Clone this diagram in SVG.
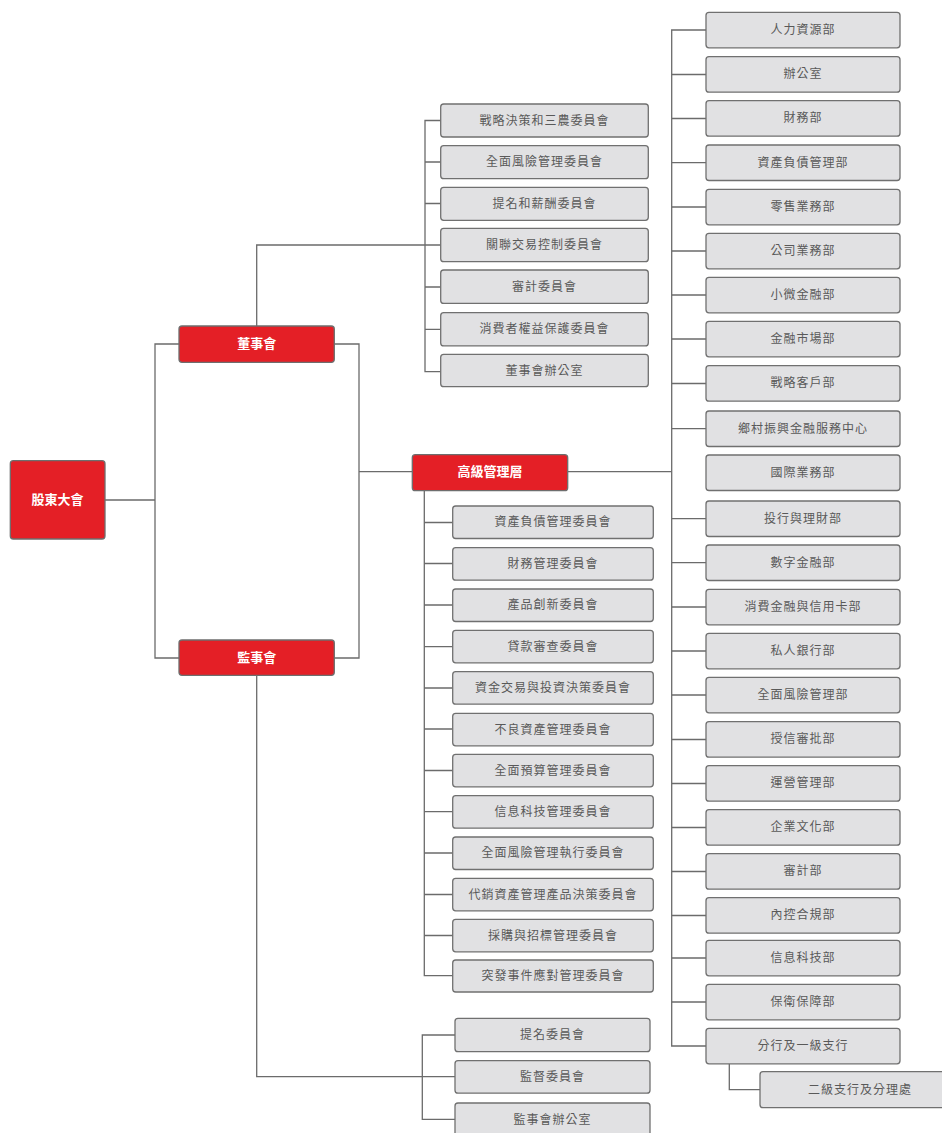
<svg xmlns="http://www.w3.org/2000/svg" width="942" height="1133" viewBox="0 0 942 1133">
<style>
.red rect{fill:#E41F26;stroke:#6e6e6e;stroke-width:1.3}
.red text{fill:#fff;font-weight:bold;font-size:13px}
.gray rect{fill:#E1E1E3;stroke:#707070;stroke-width:1.3}
.gray text{fill:#595959;font-size:12px;letter-spacing:1px}
text{font-family:"Noto Sans CJK TC","Noto Sans CJK SC",sans-serif;text-anchor:middle;dominant-baseline:central;transform:translateY(-1.5px)}
#connectors path{fill:none;stroke:#6b6b6b;stroke-width:1.3}
</style>
<rect width="942" height="1133" fill="#fff"/>
<g id="connectors">
<path d="M105,500H155M179,344H155V658H179"/>
<path d="M334,344H359V658H334M359,471.7H412.5"/>
<path d="M567.7,471.7H671.7"/>
<path d="M256.7,326V245H425M440.7,120.5H425V371.7H440.7M425,162H440.7M425,203.5H440.7M425,245H440.7M425,287H440.7M425,329.3H440.7"/>
<path d="M424.3,490.7V975.7H452.7M424.3,522.5H452.7M424.3,563.5H452.7M424.3,605H452.7M424.3,646.7H452.7M424.3,688H452.7M424.3,729H452.7M424.3,770.5H452.7M424.3,811.7H452.7M424.3,853H452.7M424.3,894.5H452.7M424.3,935.5H452.7"/>
<path d="M256.7,675.3V1076.7H455M455,1035H422.3V1119.3H455"/>
<path d="M706,30H671.7V1046H706M671.7,74.5H706M671.7,118.5H706M671.7,162.7H706M671.7,207H706M671.7,251H706M671.7,295H706M671.7,339H706M671.7,383.5H706M671.7,428.7H706M671.7,518.7H706M671.7,562.7H706M671.7,607H706M671.7,651H706M671.7,695H706M671.7,739.5H706M671.7,783.5H706M671.7,827.5H706M671.7,871.5H706M671.7,915.5H706M671.7,958H706M671.7,1002H706"/>
<path d="M729.3,1063.8V1089.7H760"/>
</g>
<g id="n_shareholders" class="red"><rect x="10.3" y="460.7" width="94.7" height="78.3" rx="3"/><text x="57.6" y="500">股東大會</text></g>
<g id="n_board" class="red"><rect x="179" y="326" width="155.3" height="36.3" rx="3"/><text x="256.7" y="344">董事會</text></g>
<g id="n_supervisory" class="red"><rect x="179" y="640" width="155.3" height="35.3" rx="3"/><text x="256.7" y="657.7">監事會</text></g>
<g id="n_senior" class="red"><rect x="412.3" y="454.7" width="155.4" height="36" rx="3"/><text x="490" y="472.2">高級管理層</text></g>

<g id="n_b1" class="gray"><rect x="440.7" y="104" width="207.6" height="33" rx="3"/><text x="544.5" y="120.5">戰略決策和三農委員會</text></g>
<g id="n_b2" class="gray"><rect x="440.7" y="145.7" width="207.6" height="33" rx="3"/><text x="544.5" y="162.2">全面風險管理委員會</text></g>
<g id="n_b3" class="gray"><rect x="440.7" y="187.3" width="207.6" height="33" rx="3"/><text x="544.5" y="203.8">提名和薪酬委員會</text></g>
<g id="n_b4" class="gray"><rect x="440.7" y="228.3" width="207.6" height="33.4" rx="3"/><text x="544.5" y="245">關聯交易控制委員會</text></g>
<g id="n_b5" class="gray"><rect x="440.7" y="270" width="207.6" height="33.4" rx="3"/><text x="544.5" y="286.7">審計委員會</text></g>
<g id="n_b6" class="gray"><rect x="440.7" y="312.7" width="207.6" height="33.2" rx="3"/><text x="544.5" y="329.3">消費者權益保護委員會</text></g>
<g id="n_b7" class="gray"><rect x="440.7" y="354.3" width="207.6" height="32.4" rx="3"/><text x="544.5" y="370.5">董事會辦公室</text></g>

<g id="n_m1" class="gray"><rect x="452.7" y="506" width="200.6" height="32.5" rx="3"/><text x="553" y="522.3">資產負債管理委員會</text></g>
<g id="n_m2" class="gray"><rect x="452.7" y="547.7" width="200.6" height="32.5" rx="3"/><text x="553" y="564">財務管理委員會</text></g>
<g id="n_m3" class="gray"><rect x="452.7" y="589" width="200.6" height="32.5" rx="3"/><text x="553" y="605.3">產品創新委員會</text></g>
<g id="n_m4" class="gray"><rect x="452.7" y="630.3" width="200.6" height="32.5" rx="3"/><text x="553" y="646.6">貸款審查委員會</text></g>
<g id="n_m5" class="gray"><rect x="452.7" y="671.7" width="200.6" height="32.5" rx="3"/><text x="553" y="688">資金交易與投資決策委員會</text></g>
<g id="n_m6" class="gray"><rect x="452.7" y="713.3" width="200.6" height="32.5" rx="3"/><text x="553" y="729.6">不良資產管理委員會</text></g>
<g id="n_m7" class="gray"><rect x="452.7" y="754.3" width="200.6" height="32.5" rx="3"/><text x="553" y="770.6">全面預算管理委員會</text></g>
<g id="n_m8" class="gray"><rect x="452.7" y="795.7" width="200.6" height="32.5" rx="3"/><text x="553" y="812">信息科技管理委員會</text></g>
<g id="n_m9" class="gray"><rect x="452.7" y="837" width="200.6" height="32.5" rx="3"/><text x="553" y="853.3">全面風險管理執行委員會</text></g>
<g id="n_m10" class="gray"><rect x="452.7" y="878.3" width="200.6" height="32.5" rx="3"/><text x="553" y="894.6">代銷資產管理產品決策委員會</text></g>
<g id="n_m11" class="gray"><rect x="452.7" y="919.3" width="200.6" height="32.5" rx="3"/><text x="553" y="935.6">採購與招標管理委員會</text></g>
<g id="n_m12" class="gray"><rect x="452.7" y="960" width="200.6" height="32" rx="3"/><text x="553" y="976">突發事件應對管理委員會</text></g>

<g id="n_s1" class="gray"><rect x="455" y="1018.3" width="195" height="33.4" rx="3"/><text x="552.5" y="1035">提名委員會</text></g>
<g id="n_s2" class="gray"><rect x="455" y="1060.7" width="195" height="32.5" rx="3"/><text x="552.5" y="1077">監督委員會</text></g>
<g id="n_s3" class="gray"><rect x="455" y="1103" width="195" height="33" rx="3"/><text x="552.5" y="1119.5">監事會辦公室</text></g>

<g id="n_d1" class="gray"><rect x="706" y="12.3" width="194" height="35.5" rx="3"/><text x="803" y="30">人力資源部</text></g>
<g id="n_d2" class="gray"><rect x="706" y="56.7" width="194" height="35.5" rx="3"/><text x="803" y="74.4">辦公室</text></g>
<g id="n_d3" class="gray"><rect x="706" y="100.7" width="194" height="35.5" rx="3"/><text x="803" y="118.4">財務部</text></g>
<g id="n_d4" class="gray"><rect x="706" y="145" width="194" height="35.5" rx="3"/><text x="803" y="162.7">資產負債管理部</text></g>
<g id="n_d5" class="gray"><rect x="706" y="189.3" width="194" height="35.5" rx="3"/><text x="803" y="207">零售業務部</text></g>
<g id="n_d6" class="gray"><rect x="706" y="233.3" width="194" height="35.5" rx="3"/><text x="803" y="251">公司業務部</text></g>
<g id="n_d7" class="gray"><rect x="706" y="277.3" width="194" height="35.5" rx="3"/><text x="803" y="295">小微金融部</text></g>
<g id="n_d8" class="gray"><rect x="706" y="321.3" width="194" height="35.5" rx="3"/><text x="803" y="339">金融市場部</text></g>
<g id="n_d9" class="gray"><rect x="706" y="365.7" width="194" height="35.5" rx="3"/><text x="803" y="383.4">戰略客戶部</text></g>
<g id="n_d10" class="gray"><rect x="706" y="411" width="194" height="35.5" rx="3"/><text x="803" y="428.7">鄉村振興金融服務中心</text></g>
<g id="n_d11" class="gray"><rect x="706" y="455" width="194" height="35.5" rx="3"/><text x="803" y="472.7">國際業務部</text></g>
<g id="n_d12" class="gray"><rect x="706" y="501" width="194" height="35.5" rx="3"/><text x="803" y="518.7">投行與理財部</text></g>
<g id="n_d13" class="gray"><rect x="706" y="545" width="194" height="35.5" rx="3"/><text x="803" y="562.7">數字金融部</text></g>
<g id="n_d14" class="gray"><rect x="706" y="589.3" width="194" height="35.5" rx="3"/><text x="803" y="607">消費金融與信用卡部</text></g>
<g id="n_d15" class="gray"><rect x="706" y="633.3" width="194" height="35.5" rx="3"/><text x="803" y="651">私人銀行部</text></g>
<g id="n_d16" class="gray"><rect x="706" y="677.3" width="194" height="35.5" rx="3"/><text x="803" y="695">全面風險管理部</text></g>
<g id="n_d17" class="gray"><rect x="706" y="721.7" width="194" height="35.5" rx="3"/><text x="803" y="739.4">授信審批部</text></g>
<g id="n_d18" class="gray"><rect x="706" y="765.7" width="194" height="35.5" rx="3"/><text x="803" y="783.4">運營管理部</text></g>
<g id="n_d19" class="gray"><rect x="706" y="809.7" width="194" height="35.5" rx="3"/><text x="803" y="827.4">企業文化部</text></g>
<g id="n_d20" class="gray"><rect x="706" y="853.7" width="194" height="35.5" rx="3"/><text x="803" y="871.4">審計部</text></g>
<g id="n_d21" class="gray"><rect x="706" y="897.7" width="194" height="35.5" rx="3"/><text x="803" y="915.4">內控合規部</text></g>
<g id="n_d22" class="gray"><rect x="706" y="940.3" width="194" height="35.5" rx="3"/><text x="803" y="958">信息科技部</text></g>
<g id="n_d23" class="gray"><rect x="706" y="984.3" width="194" height="35.5" rx="3"/><text x="803" y="1002">保衛保障部</text></g>
<g id="n_d24" class="gray"><rect x="706" y="1028.3" width="194" height="35.5" rx="3"/><text x="803" y="1046">分行及一級支行</text></g>
<g id="n_d25" class="gray"><rect x="760" y="1071.7" width="195" height="36" rx="3"/><text x="860" y="1089.7">二級支行及分理處</text></g>
</svg>
